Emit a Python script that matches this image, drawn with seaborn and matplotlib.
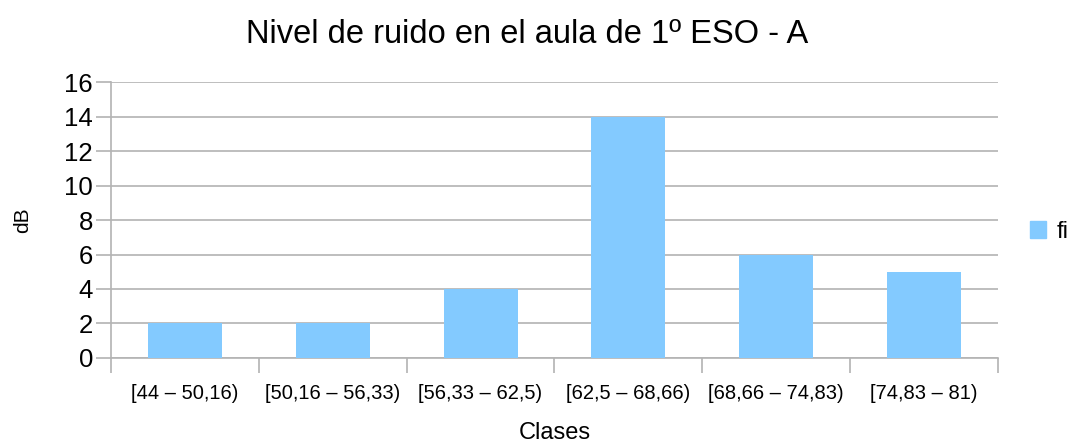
import matplotlib
matplotlib.use("Agg")
import matplotlib.pyplot as plt
import seaborn as sns
import pandas as pd
from matplotlib.patches import Patch

clases = ["[44 – 50,16)", "[50,16 – 56,33)", "[56,33 – 62,5)",
          "[62,5 – 68,66)", "[68,66 – 74,83)", "[74,83 – 81)"]
fi = [2, 2, 4, 14, 6, 5]

sns.set_theme(style="white")
plt.rcParams["font.family"] = ["Liberation Sans", "DejaVu Sans"]
plt.rcParams["text.color"] = "black"
plt.rcParams["axes.labelcolor"] = "black"

df = pd.DataFrame({"Clases": clases, "fi": fi})
bar_color = "#83CAFF"
grid_color = "#b3b3b3"

fig = plt.figure(figsize=(10.70, 4.44), dpi=100)
ax = fig.add_axes([0.1037, 0.1937, 0.8290, 0.6216])

sns.barplot(data=df, x="Clases", y="fi", color=bar_color, width=0.5,
            saturation=1, linewidth=0, ax=ax, zorder=3)

ax.set_xlim(-0.5, len(clases) - 0.5)
ax.set_ylim(0, 16)
ax.set_yticks(range(0, 17, 2))
ax.yaxis.grid(True, color=grid_color, linewidth=1.2, zorder=0)
ax.set_axisbelow(True)

for side in ["top", "right"]:
    ax.spines[side].set_visible(False)
for side in ["left", "bottom"]:
    ax.spines[side].set_color(grid_color)
    ax.spines[side].set_linewidth(1.2)

# category boundaries carry the x tick marks
ax.set_xticks([i - 0.5 for i in range(len(clases) + 1)], minor=True)
ax.tick_params(axis="x", which="minor", length=11, width=1.2, color=grid_color,
               bottom=True)
ax.tick_params(axis="x", which="major", length=0, pad=19, labelsize=14.5,
               labelcolor="black")
ax.tick_params(axis="y", which="major", length=11, width=1.2, color=grid_color,
               left=True, pad=2, labelsize=18.5, labelcolor="black")

ax.set_xlabel("Clases", fontsize=17, color="black")
ax.set_ylabel("dB", fontsize=15, color="black")
ax.xaxis.set_label_coords(0.5, -0.232)
ax.yaxis.set_label_coords(-0.089, 0.5)

fig.suptitle("Nivel de ruido en el aula de 1º ESO - A", fontsize=23.5,
             y=0.958, x=0.493)

fig.legend(handles=[Patch(facecolor=bar_color, edgecolor=bar_color, label="fi")],
           loc="center left", bbox_to_anchor=(0.9626, 0.478), frameon=False,
           fontsize=17, handlelength=0.68, handleheight=0.68, handletextpad=0.45,
           borderaxespad=0, borderpad=0)

fig.savefig("out.png", dpi=100, facecolor="white")
